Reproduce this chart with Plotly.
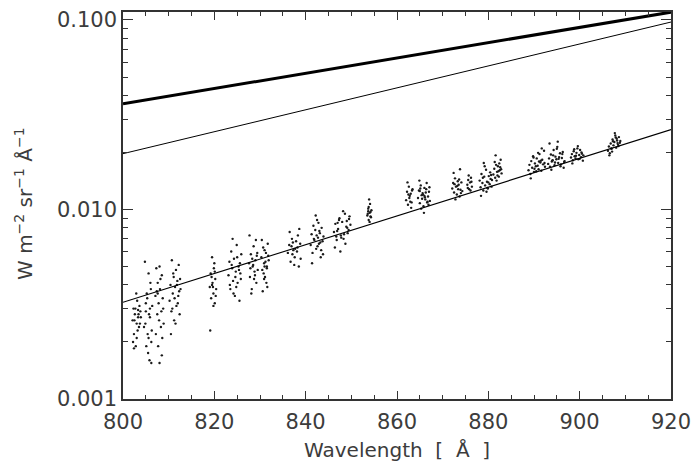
import plotly.graph_objects as go

# ---- model lines (endpoints at 800 and 920 Å) ----
line_wl = [800, 920]
thick_flux = [0.0361, 0.110]
thin_flux = [0.0197, 0.0975]
fit_flux = [0.00324, 0.0264]

# ---- observed points (flux in units of 1e-3 W m-2 sr-1 Å-1) ----
wl_a = [802.1, 802.3, 802.4, 802.6, 802.8, 803.0, 803.1, 803.3, 803.5, 803.6, 803.8, 802.2, 802.5, 802.9, 803.2, 803.4, 803.7, 802.7, 803.0, 803.9, 802.4, 803.3]
fx_a = [2.6, 3.0, 2.2, 2.8, 1.9, 2.5, 3.3, 2.7, 2.4, 3.1, 2.9, 2.0, 2.6, 3.6, 2.3, 2.8, 2.5, 3.0, 2.1, 2.7, 1.85, 2.95]
wl_b = [804.6, 804.8, 805.0, 805.1, 805.3, 805.4, 805.6, 805.8, 805.9, 806.1, 806.2, 806.4, 804.9, 805.2, 805.5, 805.7, 806.0, 806.3, 805.0, 805.6, 805.9, 806.2]
fx_b = [2.4, 5.3, 2.9, 1.9, 3.4, 2.2, 4.6, 1.6, 2.7, 3.8, 2.0, 3.1, 2.5, 3.6, 1.75, 2.8, 4.1, 2.3, 3.2, 2.1, 3.0, 1.55]
wl_c = [807.1, 807.3, 807.5, 807.6, 807.8, 808.0, 808.1, 808.3, 808.5, 808.6, 808.8, 807.4, 807.7, 807.9, 808.2, 808.4, 808.7, 807.2, 808.0, 808.5, 807.6, 808.9]
fx_c = [3.5, 4.9, 2.8, 4.1, 3.2, 1.55, 3.8, 2.4, 4.5, 2.1, 3.0, 3.7, 1.9, 2.6, 4.3, 2.9, 3.4, 2.2, 5.0, 1.7, 3.6, 2.5]
wl_d = [810.2, 810.4, 810.6, 810.7, 810.9, 811.1, 811.2, 811.4, 811.6, 811.7, 811.9, 812.1, 812.2, 812.4, 812.6, 810.5, 810.8, 811.0, 811.3, 811.5, 811.8, 812.0, 812.3, 812.5]
fx_d = [3.3, 4.0, 2.9, 5.4, 3.6, 4.4, 2.6, 3.9, 4.8, 3.1, 4.2, 3.5, 5.1, 2.8, 3.8, 2.2, 3.0, 4.6, 3.4, 2.5, 4.0, 3.2, 3.7, 4.3]
wl_e = [819.0, 819.2, 819.3, 819.5, 819.6, 819.8, 819.9, 820.1, 820.2, 820.4, 819.1, 819.4, 819.7, 820.0, 820.3, 819.5, 819.8, 820.1]
fx_e = [3.9, 4.6, 3.4, 5.6, 4.1, 3.6, 4.9, 3.2, 4.3, 3.8, 2.3, 4.4, 3.9, 5.2, 3.5, 4.0, 3.1, 4.7]
wl_f = [823.1, 823.3, 823.5, 823.7, 823.9, 824.1, 824.3, 824.5, 824.7, 824.9, 825.1, 825.3, 825.5, 825.7, 825.9, 823.4, 823.8, 824.2, 824.6, 825.0, 825.4, 825.8, 824.0, 824.8, 825.6]
fx_f = [4.5, 5.3, 3.8, 6.0, 4.9, 4.2, 5.5, 3.5, 4.7, 6.5, 4.1, 5.0, 3.3, 4.6, 5.8, 4.0, 5.1, 3.6, 4.4, 5.6, 4.8, 4.3, 7.0, 3.9, 5.2]
wl_g = [827.6, 827.8, 828.0, 828.2, 828.4, 828.6, 828.8, 829.0, 829.2, 829.4, 827.9, 828.3, 828.7, 829.1, 829.5, 828.1, 828.5, 828.9, 829.3, 827.7]
fx_g = [5.2, 4.4, 5.8, 3.8, 5.0, 6.4, 4.7, 5.4, 4.1, 5.9, 4.9, 5.5, 4.3, 6.9, 4.8, 3.6, 5.1, 4.5, 5.7, 7.3]
wl_h = [830.3, 830.5, 830.7, 830.9, 831.1, 831.3, 831.5, 831.7, 831.9, 830.6, 831.0, 831.4, 831.8, 830.4, 830.8, 831.2, 831.6, 831.0, 830.9, 831.5]
fx_h = [5.6, 4.8, 6.3, 5.2, 4.4, 5.9, 4.9, 6.6, 5.4, 3.7, 5.0, 4.1, 5.7, 6.9, 4.6, 5.3, 3.9, 6.1, 4.3, 5.0]
wl_i = [836.1, 836.4, 836.7, 837.0, 837.3, 837.6, 837.9, 838.2, 838.5, 838.8, 836.5, 837.1, 837.7, 838.3, 838.9, 836.9, 837.5, 838.1, 838.6, 837.2]
fx_i = [5.9, 6.5, 5.3, 7.0, 6.1, 5.6, 6.8, 6.3, 5.0, 6.6, 7.6, 5.8, 6.2, 7.3, 5.5, 6.4, 5.1, 6.0, 7.9, 6.7]
wl_j = [841.1, 841.3, 841.5, 841.7, 841.9, 842.1, 842.3, 842.5, 842.7, 842.9, 843.1, 843.3, 843.5, 843.7, 843.9, 841.4, 841.8, 842.2, 842.6, 843.0, 843.4, 843.8, 842.4, 842.8, 843.2]
fx_j = [6.5, 7.4, 5.9, 8.2, 6.9, 7.8, 6.2, 8.8, 7.1, 6.6, 7.5, 5.6, 8.0, 6.8, 7.2, 5.2, 7.0, 9.3, 6.4, 7.7, 6.1, 5.8, 7.3, 8.5, 6.7]
wl_k = [846.2, 846.5, 846.8, 847.1, 847.4, 847.7, 848.0, 848.3, 848.6, 848.9, 849.2, 849.5, 849.8, 846.4, 846.9, 847.3, 847.8, 848.2, 848.7, 849.1, 849.6, 847.0, 847.6, 848.4, 849.0, 849.4, 846.7]
fx_k = [7.6, 8.4, 6.9, 7.9, 9.0, 7.3, 8.6, 7.0, 9.5, 8.1, 7.5, 8.9, 8.3, 6.3, 7.7, 8.8, 7.1, 9.8, 6.6, 8.0, 9.2, 8.5, 6.0, 7.4, 8.7, 7.8, 7.2]
wl_l = [853.5, 853.7, 853.8, 854.0, 854.1, 854.3, 854.4, 853.6, 853.9, 854.2, 853.8, 854.0, 854.2, 853.7]
fx_l = [9.3, 10.1, 8.8, 9.6, 10.7, 9.1, 9.9, 9.5, 11.3, 9.7, 10.3, 8.6, 9.2, 9.8]
wl_m = [862.0, 862.2, 862.4, 862.6, 862.8, 863.0, 863.2, 863.4, 862.3, 862.7, 863.1, 862.5, 862.9, 863.3]
fx_m = [11.2, 12.4, 10.6, 13.2, 11.8, 12.1, 10.9, 12.8, 13.9, 11.5, 10.2, 12.0, 11.0, 12.6]
wl_n = [864.6, 864.8, 865.0, 865.2, 865.4, 865.6, 865.8, 866.0, 866.2, 866.4, 866.6, 866.8, 867.0, 867.2, 864.9, 865.3, 865.7, 866.1, 866.5, 866.9, 865.1, 865.5, 865.9, 866.3, 866.7, 867.1, 865.0, 866.0]
fx_n = [11.5, 12.6, 10.8, 13.4, 11.9, 12.2, 10.4, 13.0, 11.3, 12.8, 10.9, 11.7, 12.4, 11.1, 14.2, 10.1, 12.0, 11.6, 13.8, 10.6, 12.9, 11.4, 9.6, 12.3, 11.0, 13.1, 12.5, 11.8]
wl_o = [872.1, 872.3, 872.5, 872.7, 872.9, 873.1, 873.3, 873.5, 873.7, 873.9, 874.1, 874.3, 872.4, 872.8, 873.2, 873.6, 874.0, 872.6, 873.4, 873.8]
fx_o = [12.9, 13.8, 12.3, 14.6, 13.2, 12.0, 14.1, 13.5, 11.7, 12.7, 13.9, 12.5, 15.6, 11.3, 13.3, 14.4, 12.2, 13.6, 12.8, 16.3]
wl_p = [875.4, 875.6, 875.8, 876.0, 876.2, 876.4, 875.7, 876.1, 875.5, 876.3]
fx_p = [13.5, 14.3, 12.8, 13.9, 14.7, 13.2, 15.1, 12.6, 13.0, 14.0]
wl_q = [878.1, 878.3, 878.5, 878.7, 878.9, 879.1, 879.3, 879.5, 879.7, 879.9, 880.1, 880.3, 880.5, 880.7, 878.4, 878.8, 879.2, 879.6, 880.0, 880.4, 880.8, 879.0, 879.8, 880.6]
fx_q = [14.2, 13.1, 15.4, 13.8, 12.6, 14.9, 13.4, 16.2, 14.0, 12.9, 15.0, 13.6, 14.5, 13.2, 11.8, 14.7, 16.9, 12.4, 13.9, 15.7, 14.3, 17.6, 13.0, 15.2]
wl_r = [881.1, 881.3, 881.5, 881.7, 881.9, 882.1, 882.3, 882.5, 882.7, 882.9, 881.4, 881.8, 882.2, 882.6, 881.6, 882.0, 882.4, 882.8]
fx_r = [15.3, 16.4, 14.7, 17.2, 15.8, 16.9, 14.9, 16.1, 18.3, 15.5, 17.8, 14.2, 15.9, 16.7, 19.3, 15.1, 17.5, 16.3]
wl_s = [888.8, 889.0, 889.2, 889.4, 889.6, 889.8, 890.0, 890.2, 890.4, 890.6, 890.8, 891.0, 891.2, 891.4, 891.6, 891.8, 892.0, 892.2, 892.4, 889.3, 889.9, 890.5, 891.1, 891.7, 892.3, 890.1, 890.9, 891.5]
fx_s = [16.1, 17.2, 15.4, 18.0, 16.6, 19.1, 15.8, 17.5, 16.9, 18.6, 17.0, 16.3, 19.6, 17.7, 16.0, 18.3, 17.3, 20.4, 16.8, 14.6, 18.8, 15.9, 17.9, 21.0, 17.6, 16.4, 19.9, 18.1]
wl_t = [893.1, 893.3, 893.5, 893.7, 893.9, 894.1, 894.3, 894.5, 894.7, 894.9, 895.1, 895.3, 895.5, 895.7, 895.9, 896.1, 896.3, 896.5, 896.7, 893.4, 893.8, 894.2, 894.6, 895.0, 895.4, 895.8, 896.2, 896.6, 894.0, 895.2]
fx_t = [17.4, 18.6, 16.8, 19.5, 17.9, 18.2, 20.6, 17.1, 19.0, 18.4, 21.4, 17.6, 18.9, 19.8, 17.3, 18.7, 20.1, 16.6, 18.0, 22.3, 16.2, 19.3, 17.7, 20.9, 18.5, 16.9, 19.6, 17.8, 18.1, 22.8]
wl_u = [898.1, 898.3, 898.5, 898.7, 898.9, 899.1, 899.3, 899.5, 899.7, 899.9, 900.1, 900.3, 900.5, 900.7, 898.4, 898.8, 899.2, 899.6, 900.0, 900.4, 900.8]
fx_u = [18.8, 19.6, 18.2, 20.3, 19.1, 18.6, 19.9, 21.0, 18.4, 19.4, 20.6, 18.9, 19.7, 18.1, 17.5, 20.8, 19.2, 21.6, 18.5, 20.0, 19.3]
wl_v = [906.2, 906.4, 906.6, 906.8, 907.0, 907.2, 907.4, 907.6, 907.8, 908.0, 908.2, 908.4, 908.6, 908.8, 906.5, 906.9, 907.3, 907.7, 908.1, 908.5, 908.9, 907.1, 907.9, 908.3]
fx_v = [20.4, 21.5, 19.8, 22.3, 20.9, 23.4, 21.8, 22.7, 24.6, 21.2, 23.1, 22.0, 24.1, 22.5, 19.3, 21.0, 22.9, 25.3, 23.7, 21.6, 23.0, 20.2, 24.0, 22.4]

x_ticks = [800, 820, 840, 860, 880, 900, 920]
y_ticks = [0.001, 0.01, 0.1]
y_ticktext = ["0.001", "0.010", "0.100"]

wl_all = (wl_a + wl_b + wl_c + wl_d + wl_e + wl_f + wl_g + wl_h + wl_i + wl_j + wl_k
          + wl_l + wl_m + wl_n + wl_o + wl_p + wl_q + wl_r + wl_s + wl_t + wl_u + wl_v)
fx_all = (fx_a + fx_b + fx_c + fx_d + fx_e + fx_f + fx_g + fx_h + fx_i + fx_j + fx_k
          + fx_l + fx_m + fx_n + fx_o + fx_p + fx_q + fx_r + fx_s + fx_t + fx_u + fx_v)
fx_all = [v * 1e-3 for v in fx_all]

y_minor = [m * 10.0 ** e for e in (-3, -2, -1) for m in range(2, 10)]
x_minor = list(range(800, 921, 5))

TXT = "#3c3c3c"
AX = "#333333"
NB = "\u00a0"

fig = go.Figure()
fig.add_trace(go.Scatter(x=wl_all, y=fx_all, mode="markers",
                         marker=dict(size=2.4, color="#1a1a1a", line=dict(width=0)),
                         showlegend=False, hoverinfo="skip"))
fig.add_trace(go.Scatter(x=line_wl, y=thick_flux, mode="lines",
                         line=dict(color="black", width=3), showlegend=False))
fig.add_trace(go.Scatter(x=line_wl, y=thin_flux, mode="lines",
                         line=dict(color="black", width=1), showlegend=False))
fig.add_trace(go.Scatter(x=line_wl, y=fit_flux, mode="lines",
                         line=dict(color="black", width=1.1), showlegend=False))

y_title = ("W" + NB + "m<sup>−2</sup>" + NB + "sr<sup>−1</sup>" + NB
           + "Å<sup>−1</sup>")
x_title = "Wavelength" + NB * 2 + "[" + NB * 2 + "Å" + NB * 2 + "]"

fig.add_annotation(text=y_title, xref="paper", yref="paper",
                   x=(24 - 123) / 548, y=(399 - 204) / 387,
                   xanchor="center", yanchor="middle", textangle=-90,
                   showarrow=False,
                   font=dict(family="DejaVu Sans", size=20, color=TXT))
fig.add_annotation(text=x_title, xref="paper", yref="paper",
                   x=0.5, y=(399 - 450) / 387,
                   xanchor="center", yanchor="middle",
                   showarrow=False,
                   font=dict(family="DejaVu Sans", size=20, color=TXT))

fig.update_layout(
    width=692, height=467,
    margin=dict(l=123, r=21, t=12, b=68, autoexpand=False),
    paper_bgcolor="white", plot_bgcolor="white",
    font=dict(family="DejaVu Sans", size=20, color=TXT),
    xaxis=dict(range=[800, 920], tickvals=x_ticks, ticks="inside", ticklen=8,
               tickwidth=1, tickcolor=AX, showline=True, linecolor=AX,
               linewidth=1.5, mirror="allticks", showgrid=False, zeroline=False,
               automargin=False, ticklabelstandoff=3,
               tickfont=dict(family="DejaVu Sans", size=21, color=TXT),
               minor=dict(tickvals=x_minor, ticks="inside", ticklen=4, tickcolor=AX,
                          showgrid=False)),
    yaxis=dict(type="log", range=[-3, -0.958], tickvals=y_ticks, ticktext=y_ticktext,
               ticks="inside", ticklen=10, tickwidth=1, tickcolor=AX,
               showline=True, linecolor=AX, linewidth=1.5, mirror="allticks",
               showgrid=False, zeroline=False, automargin=False,
               tickfont=dict(family="DejaVu Sans", size=21, color=TXT),
               minor=dict(tickvals=y_minor, ticks="inside", ticklen=5, tickcolor=AX,
                          showgrid=False)),
)

fig.write_html("out.html")
